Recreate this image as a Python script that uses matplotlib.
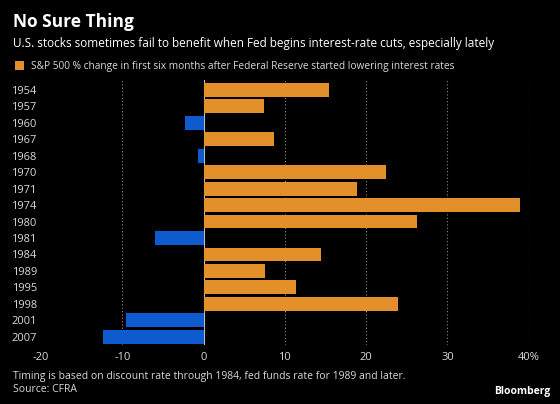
import matplotlib
matplotlib.use("Agg")
from matplotlib import pyplot as plt
from matplotlib.patches import Rectangle

years = ['1954', '1957', '1960', '1967', '1968', '1970', '1971', '1974',
         '1980', '1981', '1984', '1989', '1995', '1998', '2001', '2007']
pct_change = [15.4, 7.4, -2.3, 8.7, -0.7, 22.5, 18.9, 38.9,
              26.2, -6.0, 14.5, 7.5, 11.4, 23.9, -9.6, -12.4]
x_ticks = [-20, -10, 0, 10, 20, 30, 40]
x_labels = ['-20', '-10', '0', '10', '20', '30', '40%']

orange = '#e3902a'
blue = '#0e5bd0'
txt = '#d9d9d9'
plt.rcParams['font.family'] = ['Open Sans', 'DejaVu Sans']

fig = plt.figure(figsize=(5.6, 4.04), dpi=100, facecolor='black')
ax = fig.add_axes([0.0732, 0.146, 0.871, 0.656], facecolor='black')

colors = [orange if v >= 0 else blue for v in pct_change]
ypos = list(range(len(years)))
ax.barh(ypos, pct_change, height=0.84, color=colors, zorder=3)

for t in [-10, 10, 20, 30, 40]:
    ax.axvline(t, color='#8a8a8a', lw=0.8, ls=(0, (1, 2)), zorder=1)
ax.axvline(0, color='#bbbbbb', lw=0.8, zorder=2)

ax.set_xlim(-20, 40)
ax.set_ylim(15.5, -0.6)
ax.set_xticks(x_ticks)
ax.set_xticklabels(x_labels)
ax.set_yticks(ypos)
ax.set_yticklabels(years)
ax.tick_params(colors=txt, labelsize=8, length=0)
ax.tick_params(axis='y', pad=3)
ax.tick_params(axis='x', pad=5)
for s in ax.spines.values():
    s.set_visible(False)

fig.text(0.024, 0.945, 'No Sure Thing', color='white', fontsize=12.5,
         fontweight='bold', va='center')
fig.text(0.024, 0.892, 'U.S. stocks sometimes fail to benefit when Fed begins '
         'interest-rate cuts, especially lately', color='white', fontsize=8.5,
         va='center')
fig.patches.append(Rectangle((0.026, 0.826), 0.016, 0.022, transform=fig.transFigure,
                             facecolor=orange, edgecolor='none'))
fig.text(0.055, 0.836, 'S&P 500 % change in first six months after Federal '
         'Reserve started lowering interest rates', color=txt, fontsize=7.3,
         va='center')
fig.text(0.024, 0.069, 'Timing is based on discount rate through 1984, fed funds '
         'rate for 1989 and later.', color=txt, fontsize=7.5, va='center')
fig.text(0.024, 0.036, 'Source: CFRA', color=txt, fontsize=7.5, va='center')
fig.text(0.983, 0.030, 'Bloomberg', color='white', fontsize=7.5,
         fontweight='bold', ha='right', va='center')

fig.savefig('out.png', dpi=100, facecolor='black')
